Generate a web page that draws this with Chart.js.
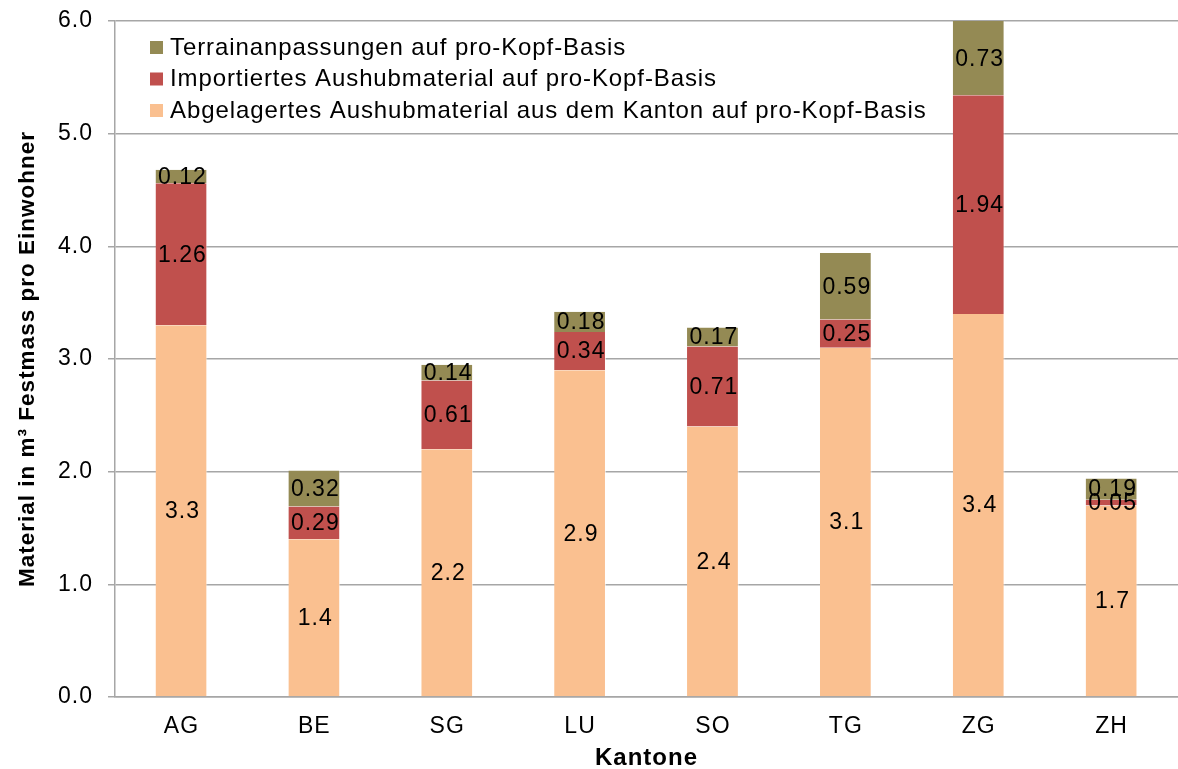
<!DOCTYPE html>
<html>
<head>
<meta charset="utf-8">
<title>Aushubmaterial pro Kopf</title>
<script src="https://cdn.jsdelivr.net/npm/chart.js@4.4.1/dist/chart.umd.min.js"></script>
<style>
  html, body { margin: 0; padding: 0; background: #fff; }
  #wrap { width: 1178px; height: 769px; position: relative; }
</style>
</head>
<body>
<div id="wrap"><canvas id="chart"></canvas></div>
<script>
// ── Data ─────────────────────────────────────
const kantone    = ['AG', 'BE', 'SG', 'LU', 'SO', 'TG', 'ZG', 'ZH'];
const abgelagert = [3.3, 1.4, 2.2, 2.9, 2.4, 3.1, 3.4, 1.7];
const importiert = [1.26, 0.29, 0.61, 0.34, 0.71, 0.25, 1.94, 0.05];
const terrain    = [0.12, 0.32, 0.14, 0.18, 0.17, 0.59, 0.73, 0.19];

const seriesNames = [
  'Abgelagertes Aushubmaterial aus dem Kanton auf pro-Kopf-Basis',
  'Importiertes Aushubmaterial auf pro-Kopf-Basis',
  'Terrainanpassungen auf pro-Kopf-Basis'
];
const seriesColors = ['#FAC090', '#C0504D', '#948A54'];

const FONT = '"Liberation Sans", Arial, sans-serif';

// ── Slightly spaced text everywhere on the canvas ──
const spacing = {
  id: 'spacing',
  beforeDraw(chart) { chart.ctx.letterSpacing = '1px'; }
};

// ── Value labels inside each segment ──────────
const segmentLabels = {
  id: 'segmentLabels',
  afterDatasetsDraw(chart) {
    const { ctx, chartArea } = chart;
    ctx.save();
    ctx.font = '23px ' + FONT;
    ctx.letterSpacing = '1px';
    ctx.fillStyle = '#000';
    ctx.textAlign = 'center';
    ctx.textBaseline = 'middle';
    chart.data.datasets.forEach((ds, i) => {
      chart.getDatasetMeta(i).data.forEach((bar, j) => {
        const top = Math.max(bar.y, chartArea.top);
        const bottom = Math.min(bar.base, chartArea.bottom);
        const txt = ds.data[j].toFixed(ds.decimals[j]);
        ctx.fillText(txt, bar.x + 1, (top + bottom) / 2 + 1);
      });
    });
    ctx.restore();
  }
};

// ── Legend drawn inside the plot area ─────────
const innerLegend = {
  id: 'innerLegend',
  afterDraw(chart) {
    const { ctx } = chart;
    const order = [2, 1, 0];
    ctx.save();
    ctx.font = '24px ' + FONT;
    ctx.letterSpacing = '0.9px';
    ctx.textBaseline = 'middle';
    ctx.textAlign = 'left';
    order.forEach((idx, row) => {
      const y = 47 + row * 31.5;
      ctx.fillStyle = seriesColors[idx];
      ctx.fillRect(150, y - 6, 13, 13);
      ctx.fillStyle = '#000';
      ctx.fillText(seriesNames[idx], 170, y + 1);
    });
    ctx.restore();
  }
};

const decimalsFor = arr => arr.map(v => (Math.round(v * 10) === v * 10 ? 1 : 2));

new Chart(document.getElementById('chart'), {
  type: 'bar',
  data: {
    labels: kantone,
    datasets: [
      { label: seriesNames[0], data: abgelagert, backgroundColor: seriesColors[0], decimals: decimalsFor(abgelagert) },
      { label: seriesNames[1], data: importiert, backgroundColor: seriesColors[1], decimals: decimalsFor(importiert) },
      { label: seriesNames[2], data: terrain,    backgroundColor: seriesColors[2], decimals: decimalsFor(terrain) }
    ].map(ds => ({
      ...ds,
      borderColor: 'rgba(255,255,255,0.6)',
      borderWidth: { left: 0, right: 1, top: 0, bottom: 0 },
      borderSkipped: false,
      categoryPercentage: 1,
      barPercentage: 0.39
    }))
  },
  options: {
    responsive: true,
    maintainAspectRatio: false,
    animation: false,
    layout: { padding: { top: 21, right: 0, left: 0, bottom: 0 } },
    plugins: {
      legend: { display: false },
      tooltip: { enabled: false }
    },
    scales: {
      x: {
        stacked: true,
        offset: true,
        grid: { display: false, drawTicks: false },
        border: { display: true, color: '#A6A6A6', width: 1.5 },
        ticks: {
          color: '#000',
          font: { size: 23, family: FONT },
          padding: 16,
          maxRotation: 0,
          autoSkip: false
        },
        title: {
          display: true,
          text: 'Kantone',
          color: '#000',
          font: { size: 24, weight: 'bold', family: FONT },
          padding: { top: 0, bottom: -4 }
        },
        afterFit(scale) { scale.height = 72; }
      },
      y: {
        stacked: true,
        min: 0,
        max: 6,
        grid: {
          color: '#A6A6A6',
          lineWidth: 1.5,
          drawTicks: true,
          tickLength: 7
        },
        border: { display: true, color: '#A6A6A6', width: 1.5 },
        ticks: {
          stepSize: 1,
          color: '#000',
          font: { size: 23, family: FONT },
          padding: 15,
          callback: v => v.toFixed(1)
        },
        title: {
          display: true,
          text: 'Material in m³ Festmass pro Einwohner',
          color: '#000',
          font: { size: 22.5, weight: 'bold', family: FONT },
          padding: { top: 14, bottom: 0 }
        },
        afterFit(scale) {
          scale.width = 115;
          scale.paddingTop = 0;
          scale.paddingBottom = 0;
        }
      }
    }
  },
  plugins: [spacing, segmentLabels, innerLegend]
});
</script>
</body>
</html>
